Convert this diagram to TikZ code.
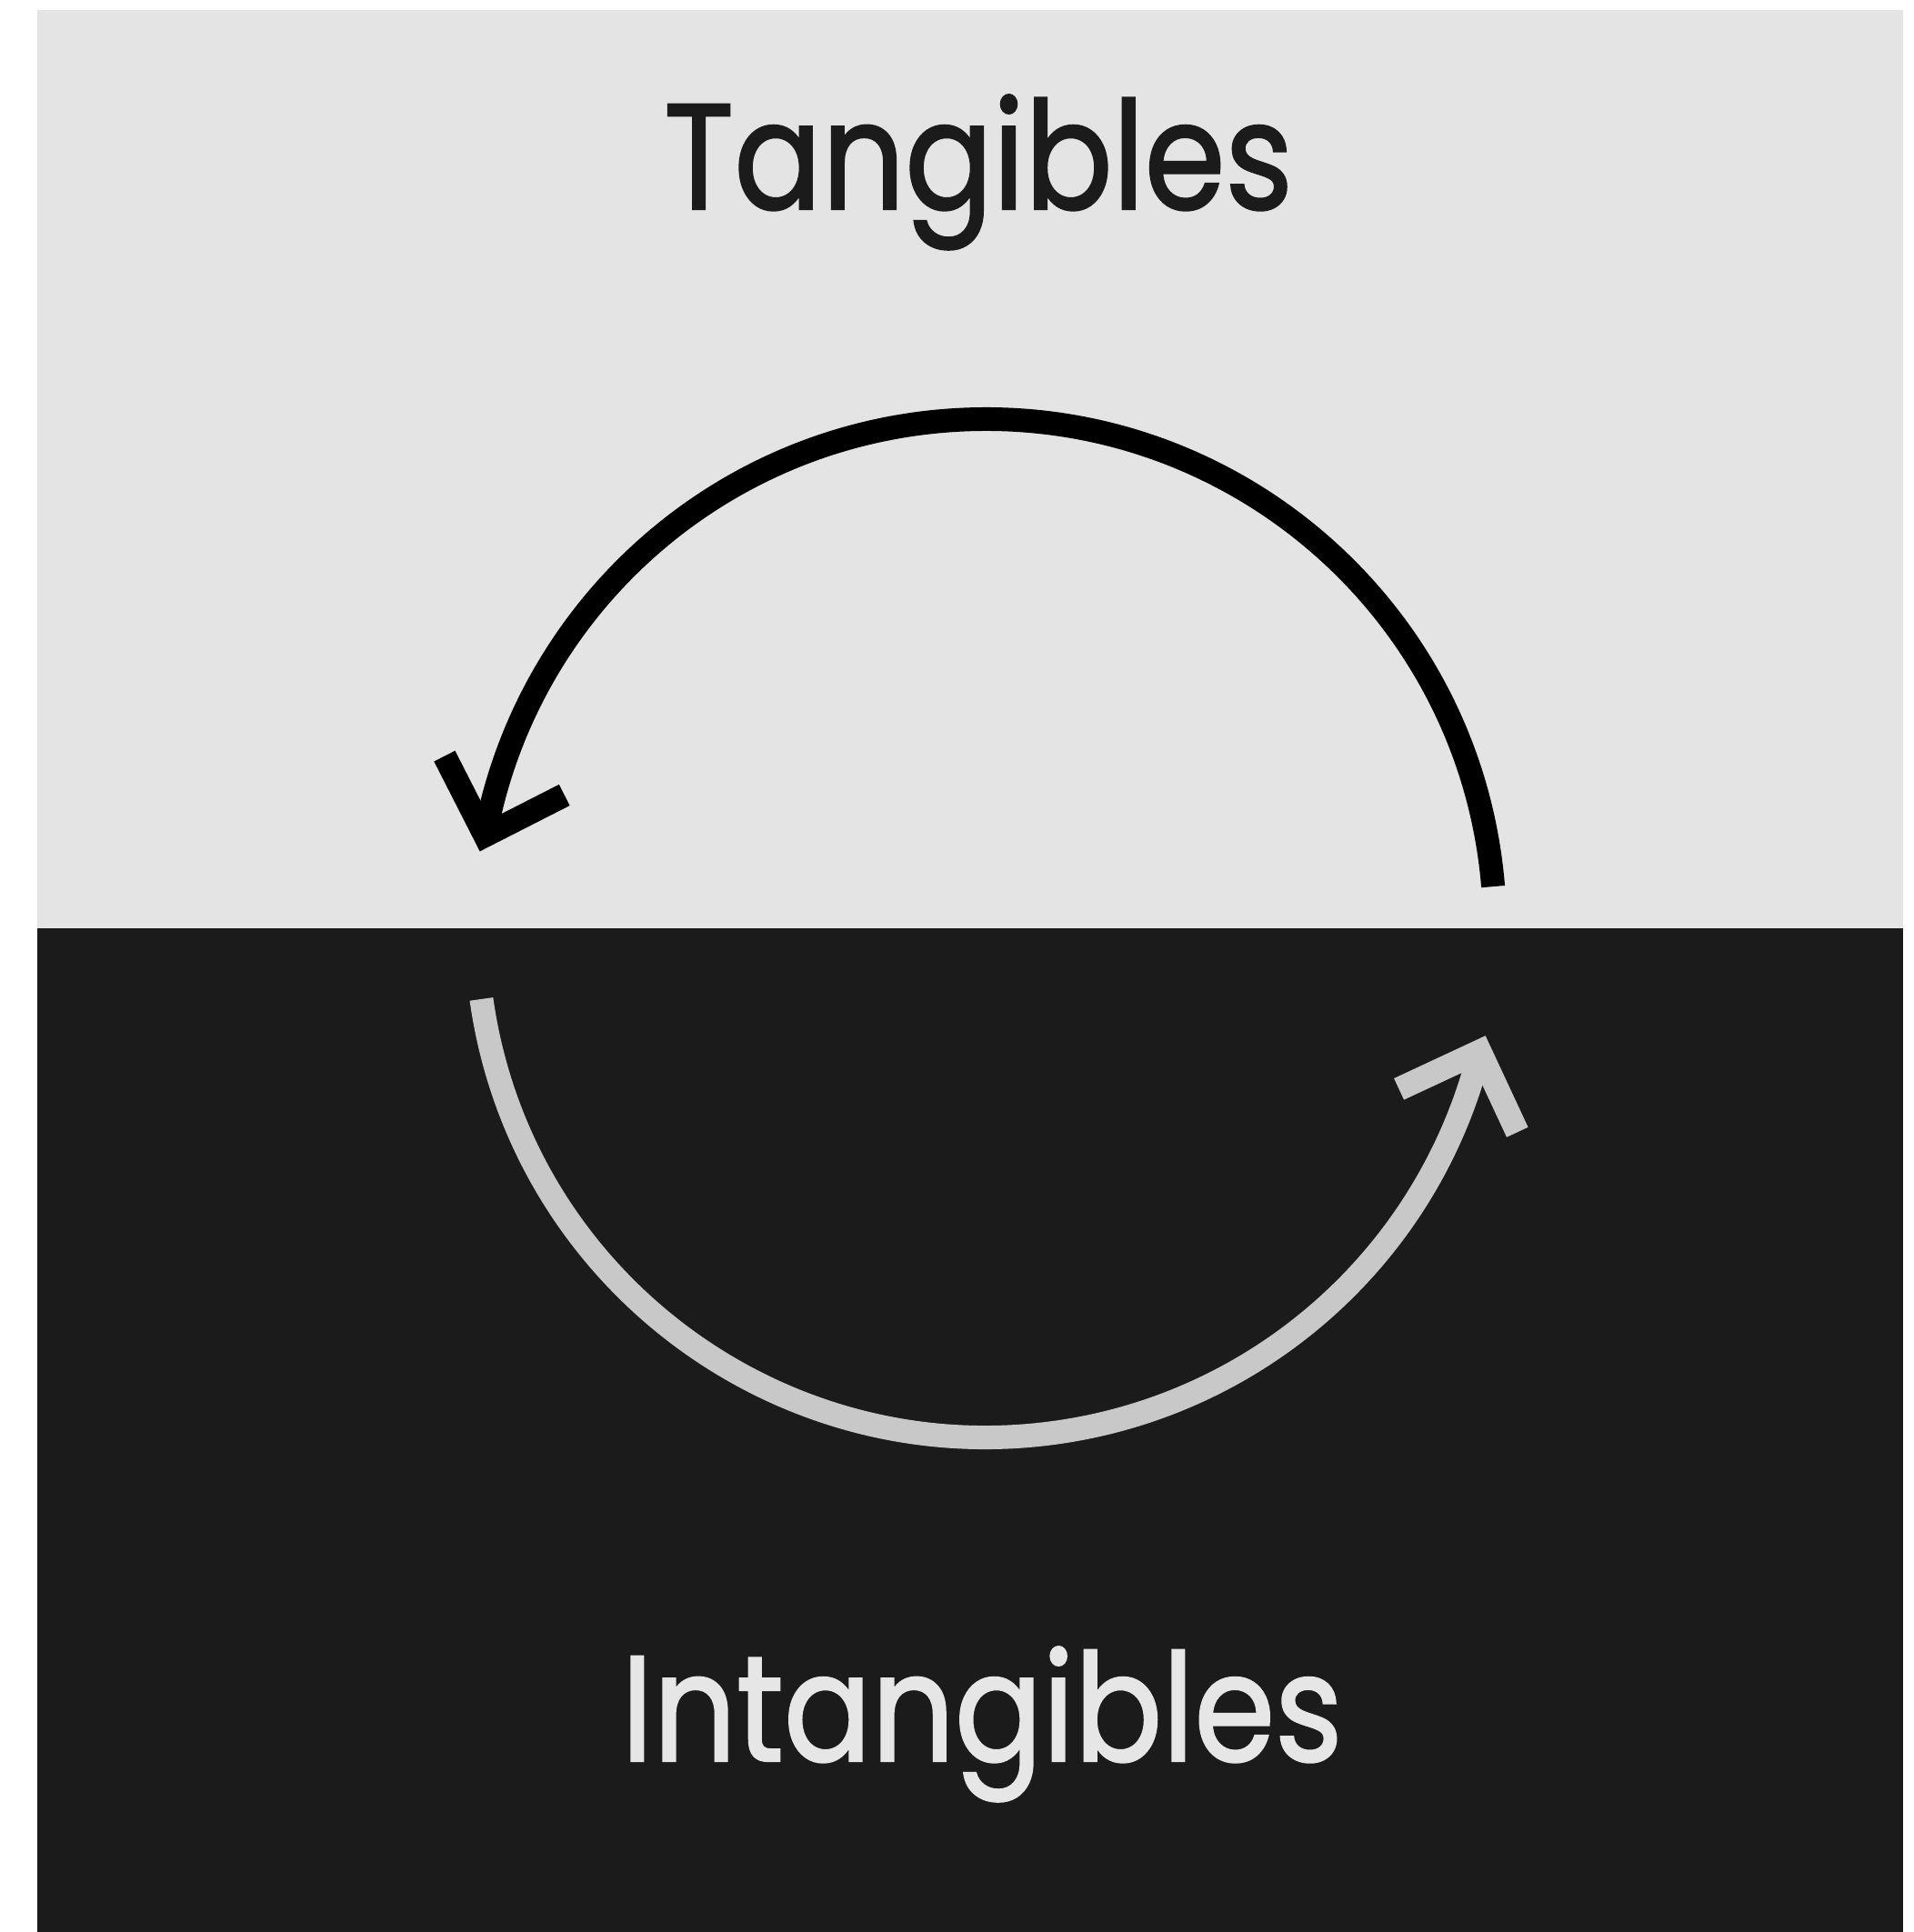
\documentclass[tikz,border=0pt]{standalone}
\usepackage{fontspec}
\setmainfont{Poppins}
\newfontfamily\cyclefont{Poppins}[FakeBold=1.5]
\usepackage{tikz}
\usetikzlibrary{positioning}
\definecolor{tanggray}{RGB}{228, 228, 228}
\definecolor{intdark}{RGB}{27, 27, 27}
\definecolor{intarc}{RGB}{200, 200, 200}
\definecolor{inttext}{RGB}{230, 230, 230}

\begin{document}
\begin{tikzpicture}[every node/.style={align=center, xscale=0.865, font=\cyclefont\fontsize{47}{52}\selectfont},
    cyclearc/.style={line width=0.26cm, line join=miter}]
    \useasboundingbox (0,0) rectangle (21.04, 21.25);
    \fill[tanggray] (0.41, 11.04) rectangle (20.93, 21.14);
    \fill[intdark]  (0.41, 0)     rectangle (20.93, 11.04);
    \coordinate (c) at (10.84, 11.04);

    \node[text=intdark, anchor=base] (tang)   at (10.76, 18.95) {Tangibles};
    \node[text=inttext, anchor=base] (intang) at (10.80, 1.88)  {Intangibles};

    \path (c) ++(4.7:5.6)   coordinate (upstart)  (c) ++(169.5:5.6) coordinate (uptip);
    \path (c) ++(188:5.6)   coordinate (lowstart) (c) ++(346:5.6)   coordinate (lowtip);

    \draw[cyclearc, black] (upstart) arc[start angle=4.7, end angle=169.5, radius=5.6];
    \draw[cyclearc, black] (uptip) ++(27:0.98) -- (uptip) -- ++(117:0.98);
    \draw[cyclearc, intarc] (lowstart) arc[start angle=188, end angle=346, radius=5.6];
    \draw[cyclearc, intarc] (lowtip) ++(205:0.98) -- (lowtip) -- ++(295:0.98);
  \end{tikzpicture}
\end{document}
